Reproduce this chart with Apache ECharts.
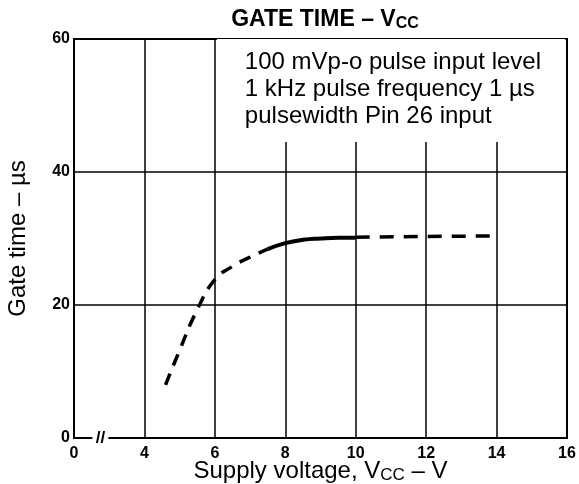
<!DOCTYPE html>
<html><head><meta charset="utf-8">
<script src="https://cdn.jsdelivr.net/npm/echarts@6/dist/echarts.min.js"></script>
<style>html,body{margin:0;padding:0;background:#fff}#c{width:579px;height:484px}</style>
</head><body><div id="c"></div>
<script>
// x value 2 is drawn as "0" (broken axis)
const xTicks = [2, 4, 6, 8, 10, 12, 14, 16];
const xTickLabels = ['0', '4', '6', '8', '10', '12', '14', '16'];
const yTicks = [0, 20, 40, 60];
const lowDashX = [4.6, 5.0, 5.5, 6.0, 6.5, 7.0, 7.5];
const lowDashY = [8.0, 13.2, 19.3, 23.8, 25.8, 27.2, 28.4];
const solidX = [7.5, 8.0, 8.5, 9.0, 9.5, 10.0];
const solidY = [28.4, 29.3, 29.8, 30.0, 30.1, 30.1];
const highDashX = [10.0, 12.0, 14.0];
const highDashY = [30.2, 30.3, 30.4];
const noteLines = ['100 mVp-o pulse input level', '1 kHz pulse frequency 1 µs', 'pulsewidth Pin 26 input'];

const F = 'Liberation Sans, Arial, sans-serif';
const pairs = (xs, ys) => xs.map((x, i) => [x, ys[i]]);
const chart = echarts.init(document.getElementById('c'), null, {renderer: 'canvas'});
chart.setOption({
  animation: false,
  backgroundColor: '#fff',
  title: {
    text: 'GATE TIME – V{s|CC}',
    left: 320, textAlign: 'center', top: 2,
    textStyle: {fontFamily: F, fontSize: 23, fontWeight: 'bold', color: '#000',
      rich: {s: {fontFamily: F, fontSize: 16, fontWeight: 'bold', color: '#000', padding: [9, 0, 0, 0]}}}
  },
  grid: {left: 74, right: 12, top: 39, bottom: 46, show: true, borderColor: '#000', borderWidth: 2,
    containLabel: false, outerBoundsMode: 'none'},
  xAxis: {
    type: 'value', min: 2, max: 16, interval: 2,
    axisLine: {lineStyle: {color: '#000', width: 2}},
    axisTick: {show: false},
    axisLabel: {fontFamily: F, fontSize: 16, fontWeight: 'bold', color: '#000', margin: 8,
      formatter: v => xTickLabels[xTicks.indexOf(v)]},
    splitLine: {show: true, lineStyle: {color: '#000', width: 1.5}},
    name: 'Supply voltage, V{s|CC} – V', nameLocation: 'middle', nameGap: 20, nameMoveOverlap: false,
    nameTextStyle: {fontFamily: F, fontSize: 24, color: '#000',
      rich: {s: {fontFamily: F, fontSize: 17, color: '#000', padding: [9, 0, 0, 0]}}}
  },
  yAxis: {
    type: 'value', min: 0, max: 60, interval: 20,
    axisLine: {lineStyle: {color: '#000', width: 2}},
    axisTick: {show: false},
    axisLabel: {fontFamily: F, fontSize: 16, fontWeight: 'bold', color: '#000', margin: 4},
    splitLine: {show: true, lineStyle: {color: '#000', width: 1.5}},
    name: 'Gate time – µs', nameLocation: 'middle', nameGap: 44, nameMoveOverlap: false,
    nameTextStyle: {fontFamily: F, fontSize: 24, color: '#000'}
  },
  series: [
    {type: 'line', data: pairs(lowDashX, lowDashY), smooth: true, symbol: 'none',
      lineStyle: {color: '#000', width: 3.5, type: [12, 9]},
      markArea: {silent: true, itemStyle: {color: '#fff'}, label: {show: false},
        data: [[{coord: [6.06, 60]}, {coord: [15.95, 44.5]}]]}},
    {type: 'line', data: pairs(solidX, solidY), smooth: true, symbol: 'none',
      lineStyle: {color: '#000', width: 4}},
    {type: 'line', data: pairs(highDashX, highDashY), smooth: false, symbol: 'none',
      lineStyle: {color: '#000', width: 3.5, type: [14, 10]}}
  ]
});
const p = chart.convertToPixel({gridIndex: 0}, [2.75, 0]);
const q = chart.convertToPixel({gridIndex: 0}, [6, 60]);
chart.setOption({graphic: [
  {type: 'rect', shape: {x: p[0] - 8, y: p[1] - 3, width: 16, height: 6}, style: {fill: '#fff'}, z: 100},
  {type: 'text', x: p[0], y: p[1], style: {text: '//', font: 'bold 17px ' + F, fill: '#000', align: 'center', verticalAlign: 'middle'}, z: 101},
  {type: 'text', x: q[0] + 30, y: q[1] + 10, style: {text: noteLines.join('\n'), font: '24px ' + F, lineHeight: 27, fill: '#000', align: 'left', verticalAlign: 'top'}, z: 101}
]});
</script></body></html>
